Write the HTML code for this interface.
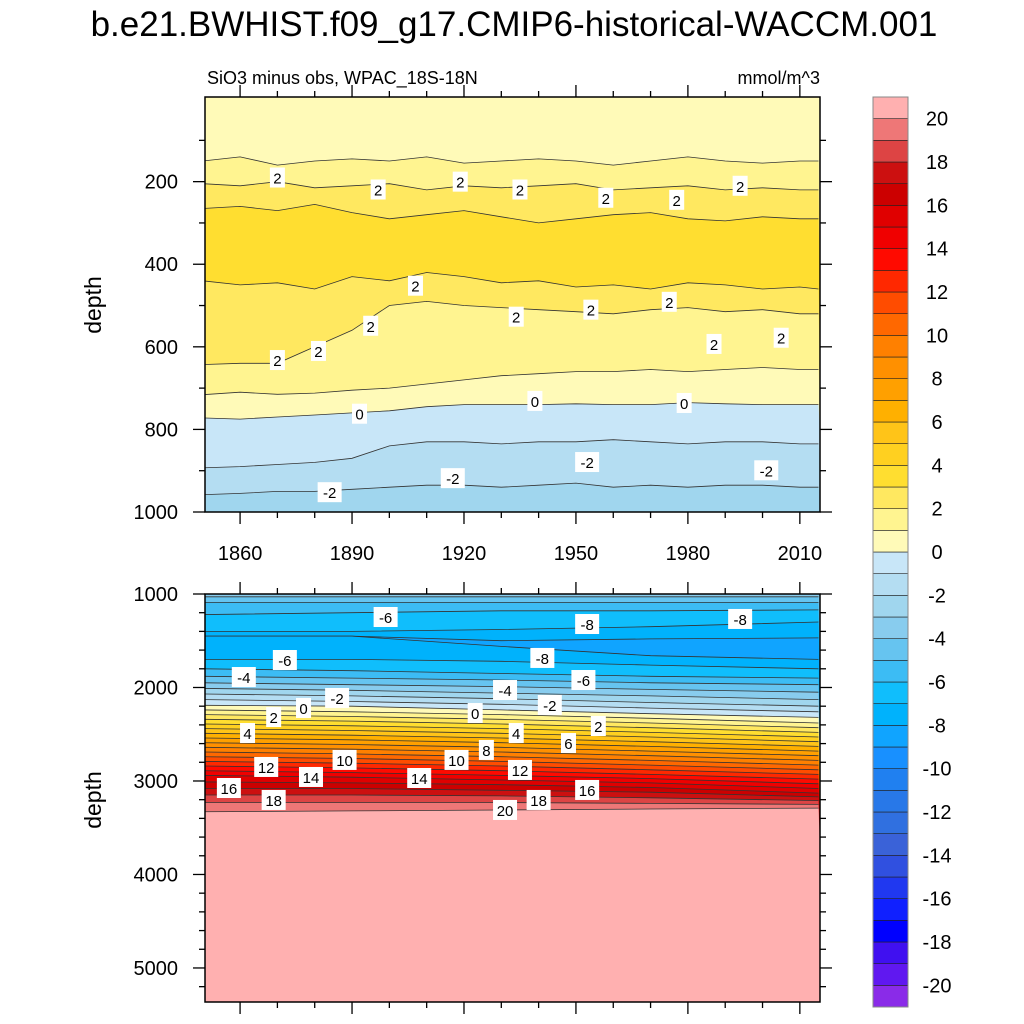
<!DOCTYPE html>
<html><head><meta charset="utf-8"><style>
html,body{margin:0;padding:0;background:#fff;}
svg{display:block;font-family:"Liberation Sans",Arial,sans-serif;}
</style></head><body>
<svg id="chart" width="1024" height="1024" viewBox="0 0 1024 1024" xmlns="http://www.w3.org/2000/svg">
<text x="514" y="36" font-size="35" text-anchor="middle">b.e21.BWHIST.f09_g17.CMIP6-historical-WACCM.001</text>
<text x="207" y="84" font-size="18">SiO3 minus obs, WPAC_18S-18N</text>
<text x="820" y="84" font-size="18" text-anchor="end">mmol/m^3</text>
<text transform="translate(101,305) rotate(-90)" font-size="23" text-anchor="middle">depth</text>
<text transform="translate(101,800) rotate(-90)" font-size="23" text-anchor="middle">depth</text>
<g id="layer"></g>
</svg>
<script>
// ---------- data ----------
const colors = ["#8A2BE8","#6018F0","#4010F0","#0000FF","#1020FF","#2038F0","#3050E0","#3A62D8","#3070E0","#2878E8","#2080F0","#1890FF","#10A4FF","#00B2FC","#10BEFC","#3CBCF4","#66C4F0","#88CCEE","#A0D6EE","#B4DDF2","#C8E6F8","#FFFAB8","#FFF490","#FFE860","#FFDE30","#FFD020","#FFC418","#FFB000","#FFA000","#FF9000","#FF8000","#FF6800","#FF4C00","#FF2800","#FF0A00","#F00000","#E00000","#CC0000","#CC1010","#DD4444","#EE7777","#FFB0B0"];
const cbLabels = [-20,-18,-16,-14,-12,-10,-8,-6,-4,-2,0,2,4,6,8,10,12,14,16,18,20];
const xTicks = [1860,1890,1920,1950,1980,2010];
const topYTicks = [200,400,600,800,1000];
const botYTicks = [1000,2000,3000,4000,5000];

const topYears = [1850,1860,1870,1880,1890,1900,1910,1920,1930,1940,1950,1960,1970,1980,1990,2000,2010,2015];
const topFirstBand = 21;
const topBands = [22,23,24,23,22,21,20,19,18];
const topC1  = [150,140,160,150,145,150,140,155,150,145,150,160,150,140,150,155,150,150];
const topC2  = [205,210,200,215,210,205,220,210,215,210,205,220,215,210,220,215,220,220];
const topC3  = [265,260,270,255,275,290,280,270,285,300,290,280,275,290,295,285,290,290];
const topC3b = [440,450,445,460,430,440,420,430,445,440,455,450,460,445,450,460,455,460];
const topC2b = [643,640,640,600,560,500,490,500,505,510,515,520,510,505,515,510,520,520];
const topC1b = [716,710,715,712,705,700,690,680,670,665,660,660,655,660,655,650,655,655];
const topC0  = [772,775,770,765,760,755,745,740,740,740,738,740,740,735,738,740,740,740];
const topCm1 = [893,890,885,880,870,840,830,830,835,830,830,825,830,835,830,830,835,835];
const topCm2 = [958,955,950,950,945,940,935,935,940,935,930,940,935,940,935,935,940,940];
const topContours = [topC1,topC2,topC3,topC3b,topC2b,topC1b,topC0,topCm1,topCm2];

const botYears = [1850,1890,1930,1970,2015];
const botFirstBand = 17;
const botBands = [16,15,14,13,12,13,14,15,16,17,18,19,20,21,22,23,24,25,26,27,28,29,30,31,32,33,34,35,36,37,38,39,40,41];
const botContours = [
 [1030,1030,1030,1030,1030],
 [1090,1090,1090,1090,1090],
 [1220,1200,1180,1180,1170],
 [1400,1400,1380,1350,1300],
 [1450,1450,1500,1480,1470],
 [1450,1450,1560,1660,1700],
 [1700,1700,1720,1760,1800],
 [1800,1820,1850,1880,1900],
 [1880,1900,1920,1950,1970],
 [1950,1970,1990,2020,2050],
 [2010,2030,2060,2090,2130],
 [2070,2090,2120,2160,2200],
 [2130,2150,2180,2220,2260],
 [2190,2200,2240,2280,2320],
 [2240,2260,2290,2330,2380],
 [2290,2310,2340,2380,2430],
 [2340,2360,2390,2430,2480],
 [2390,2410,2440,2480,2530],
 [2440,2460,2490,2530,2580],
 [2490,2510,2540,2580,2630],
 [2540,2560,2590,2630,2680],
 [2590,2610,2640,2680,2730],
 [2640,2660,2690,2730,2780],
 [2690,2710,2740,2780,2830],
 [2740,2760,2790,2830,2880],
 [2790,2810,2840,2880,2930],
 [2840,2860,2890,2930,2980],
 [2890,2910,2940,2975,3030],
 [2940,2960,2990,3020,3080],
 [3010,3020,3040,3070,3130],
 [3080,3080,3100,3120,3170],
 [3150,3150,3160,3180,3210],
 [3230,3230,3230,3240,3250],
 [3330,3320,3310,3300,3290]
];

const topLabelYears = [1870,1897,1919,1935,1958,1977,1994,1907,1934,1954,1975,1895,1881,1870,1987,2005,1892,1939,1979,1884,1917,1953,2001];
const topLabelDepths = [190,219,200,219,239,244,210,452,527,510,491,549,610,632,593,578,762,731,736,952,918,879,899];
const topLabelText = ["2","2","2","2","2","2","2","2","2","2","2","2","2","2","2","2","0","0","0","-2","-2","-2","-2"];
const botLabelYears = [1899,1953,1994,1941,1872,1952,1861,1931,1886,1943,1877,1923,1869,1956,1862,1934,1948,1926,1888,1918,1867,1935,1879,1908,1857,1953,1869,1940,1931];
const botLabelDepths = [1246,1321,1267,1684,1706,1920,1888,2027,2112,2187,2219,2273,2316,2412,2487,2487,2594,2668,2775,2775,2850,2882,2957,2968,3075,3096,3203,3203,3310];
const botLabelText = ["-6","-8","-8","-8","-6","-6","-4","-4","-2","-2","0","0","2","2","4","4","6","8","10","10","12","12","14","14","16","16","18","18","20"];

// ---------- layout ----------
const NS="http://www.w3.org/2000/svg";
const layer=document.getElementById('layer');
const X0=205,X1=820,YR0=1850.6,YR1=2015.4;
const xs=y=>X0+(y-YR0)/(YR1-YR0)*(X1-X0);
const topP={y0:97,y1:512,d0:-5,d1:1000};
const botP={y0:594,y1:1002,d0:1000,d1:5364};
const ys=(p,d)=>p.y0+(d-p.d0)/(p.d1-p.d0)*(p.y1-p.y0);
function mk(tag,attrs,parent){const e=document.createElementNS(NS,tag);for(const k in attrs)e.setAttribute(k,attrs[k]);(parent||layer).appendChild(e);return e;}

function drawPanel(p,years,first,bands,contours,lYears,lDepths,lText,name,clipId){
  const g=mk('g',{});
  
  
  const cp=mk('clipPath',{id:clipId},g);
  mk('rect',{x:X0,y:p.y0,width:X1-X0,height:p.y1-p.y0},cp);
  const inner=mk('g',{'clip-path':'url(#'+clipId+')'},g);
  const bg=mk('rect',{x:X0,y:p.y0,width:X1-X0,height:p.y1-p.y0,fill:colors[first]},inner);
  
  
  contours.forEach((c,i)=>{
    let pts=years.map((yr,j)=>xs(yr).toFixed(1)+','+ys(p,c[j]).toFixed(1));
    const poly=mk('polygon',{points:pts.join(' ')+' '+(X1+5)+','+(p.y1+5)+' '+(X0-5)+','+(p.y1+5),fill:colors[bands[i]]},inner);
    
    
  });
  contours.forEach((c,i)=>{
    const pl=mk('polyline',{points:years.map((yr,j)=>xs(yr).toFixed(1)+','+ys(p,c[j]).toFixed(1)).join(' '),fill:'none',stroke:'#333',"stroke-width":0.8},inner);
    
    
  });
  lText.forEach((t,i)=>{
    const cx=xs(lYears[i]),cy=ys(p,lDepths[i]);
    const w=t.length*9+6;
    const r=mk('rect',{x:cx-w/2,y:cy-10,width:w,height:20,fill:'#fff'},inner);
    
    
    const tx=mk('text',{x:cx,y:cy+6,"font-size":15,"text-anchor":"middle"},inner);
    tx.textContent=t;
    
    
  });
  const fr=mk('rect',{x:X0,y:p.y0,width:X1-X0,height:p.y1-p.y0,fill:'none',stroke:'#000',"stroke-width":1.5},g);
  
  
}
drawPanel(topP,topYears,topFirstBand,topBands,topContours,topLabelYears,topLabelDepths,topLabelText,'top-panel','clipTop');
drawPanel(botP,botYears,botFirstBand,botBands,botContours,botLabelYears,botLabelDepths,botLabelText,'bottom-panel','clipBot');

// axes
function tick(x1,y1,x2,y2){const l=mk('line',{x1,y1,x2,y2,stroke:'#000',"stroke-width":1.3});}
[topP,botP].forEach(p=>{
  for(let yr=1860;yr<=2010;yr+=10){
    const x=xs(yr),L=(yr%30==0)?12:6;
    tick(x,p.y0,x,p.y0-L);tick(x,p.y1,x,p.y1+L);
  }
});
for(let d=100;d<=1000;d+=100){const y=ys(topP,d),L=(d%200==0)?12:6;tick(X0,y,X0-L,y);tick(X1,y,X1+L,y);}
for(let d=1000;d<=5200;d+=200){const y=ys(botP,d),L=(d%1000==0)?12:6;tick(X0,y,X0-L,y);tick(X1,y,X1+L,y);}
xTicks.forEach(v=>{const t=mk('text',{x:xs(v),y:560,"font-size":20,"text-anchor":"middle"});t.textContent=v;});
topYTicks.forEach(v=>{const t=mk('text',{x:178,y:ys(topP,v)+7,"font-size":20,"text-anchor":"end"});t.textContent=v;});
botYTicks.forEach(v=>{const t=mk('text',{x:178,y:ys(botP,v)+7,"font-size":20,"text-anchor":"end"});t.textContent=v;});

// colorbar
const CB={x:873,w:35,y0:97,y1:1007};
const h=(CB.y1-CB.y0)/colors.length;
const cbg=mk('g',{});


colors.forEach((c,i)=>{
  const r=mk('rect',{x:CB.x,y:CB.y1-(i+1)*h,width:CB.w,height:h,fill:c,stroke:'#222',"stroke-width":0.6},cbg);
  
  
});
mk('rect',{x:CB.x,y:CB.y0,width:CB.w,height:CB.y1-CB.y0,fill:'none',stroke:'#888',"stroke-width":1},cbg);
cbLabels.forEach(v=>{
  const y=CB.y1-(v+21)*h;
  const t=mk('text',{x:937,y:y+7,"font-size":20,"text-anchor":"middle"},cbg);
  t.textContent=v;
  
  
});
</script>
</body></html>
